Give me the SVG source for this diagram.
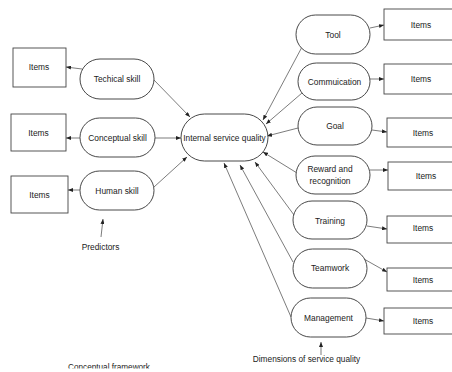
<svg xmlns="http://www.w3.org/2000/svg" width="452" height="372" viewBox="0 0 452 372">
<style>
.n{fill:#fff;stroke:#333;stroke-width:0.9}
.b{fill:#fff;stroke:#444;stroke-width:0.9}
.t{font-family:"Liberation Sans",Arial,sans-serif;font-size:8.4px;fill:#222;text-anchor:middle}
.c line{stroke:#444;stroke-width:0.7;marker-end:url(#ah)}
</style>
<defs>
<marker id="ah" viewBox="0 0 10 8" refX="10" refY="4" markerWidth="5" markerHeight="4" markerUnits="userSpaceOnUse" orient="auto">
<path d="M0,0L10,4L0,8z" fill="#222"/>
</marker>
<clipPath id="clipb"><rect x="0" y="0" width="452" height="368.6"/></clipPath>
</defs>
<g id="connectors" class="c">
<line x1="82" y1="69" x2="66" y2="67"/>
<line x1="80" y1="138" x2="66" y2="138"/>
<line x1="80" y1="190" x2="68" y2="190"/>
<line x1="154" y1="80" x2="190" y2="117"/>
<line x1="155" y1="138" x2="181" y2="138"/>
<line x1="154" y1="187" x2="187" y2="157"/>
<line x1="302" y1="47" x2="263" y2="120"/>
<line x1="302" y1="93" x2="266" y2="124"/>
<line x1="298" y1="128" x2="267" y2="136"/>
<line x1="297" y1="173" x2="263" y2="152"/>
<line x1="294" y1="215" x2="255" y2="162"/>
<line x1="293" y1="262" x2="240" y2="165"/>
<line x1="291" y1="317" x2="224" y2="163"/>
<line x1="370" y1="28" x2="384" y2="25"/>
<line x1="370" y1="79" x2="384" y2="79"/>
<line x1="372" y1="130" x2="387" y2="132"/>
<line x1="370" y1="170" x2="388" y2="170"/>
<line x1="367" y1="226" x2="387" y2="229"/>
<line x1="364" y1="259" x2="387" y2="272"/>
<line x1="366" y1="318" x2="384" y2="321"/>
<line x1="101" y1="237" x2="103" y2="219"/>
<line x1="321" y1="355" x2="321" y2="342"/>
</g>
<g id="internal"><rect class="n" x="181" y="114" width="87" height="47" rx="23.5"/><text class="t" x="224.5" y="141" style="font-size:8.3px">Internal service quality</text></g>
<g id="techical"><rect class="n" x="80" y="59" width="74" height="40" rx="20"/><text class="t" x="117" y="82">Techical skill</text></g>
<g id="conceptual"><rect class="n" x="80" y="118" width="75" height="39" rx="19.5"/><text class="t" x="117.5" y="141">Conceptual skill</text></g>
<g id="human"><rect class="n" x="80" y="171" width="74" height="39" rx="19.5"/><text class="t" x="117" y="194">Human skill</text></g>
<g id="items-l1"><rect class="b" x="13" y="48" width="53" height="39"/><text class="t" x="39" y="70">Items</text></g>
<g id="items-l2"><rect class="b" x="11" y="114" width="55" height="37"/><text class="t" x="38.5" y="136">Items</text></g>
<g id="items-l3"><rect class="b" x="11" y="176" width="57" height="37"/><text class="t" x="39.5" y="198">Items</text></g>
<g id="tool"><rect class="n" x="296" y="15" width="74" height="39" rx="19.5"/><text class="t" x="333" y="38">Tool</text></g>
<g id="commuication"><rect class="n" x="298" y="63" width="72" height="37" rx="18.5"/><text class="t" x="334.5" y="85">Commuication</text></g>
<g id="goal"><rect class="n" x="298" y="107" width="74" height="38" rx="19"/><text class="t" x="335" y="129">Goal</text></g>
<g id="reward"><rect class="n" x="296" y="156" width="74" height="38" rx="19"/><text class="t" x="330" y="172">Reward and</text><text class="t" x="330" y="184">recognition</text></g>
<g id="training"><rect class="n" x="293" y="201" width="74" height="38" rx="19"/><text class="t" x="330" y="224">Training</text></g>
<g id="teamwork"><rect class="n" x="293" y="249" width="74" height="39" rx="19.5"/><text class="t" x="330" y="271">Teamwork</text></g>
<g id="management"><rect class="n" x="291" y="298" width="75" height="39" rx="19.5"/><text class="t" x="328.5" y="321">Management</text></g>
<g id="items-r1"><rect class="b" x="384" y="9" width="74" height="31"/><text class="t" x="421" y="28">Items</text></g>
<g id="items-r2"><rect class="b" x="384" y="64" width="74" height="30"/><text class="t" x="421" y="82">Items</text></g>
<g id="items-r3"><rect class="b" x="387" y="118" width="72" height="29"/><text class="t" x="423" y="136">Items</text></g>
<g id="items-r4"><rect class="b" x="388" y="162" width="76" height="28"/><text class="t" x="426" y="179">Items</text></g>
<g id="items-r5"><rect class="b" x="387" y="216" width="72" height="27"/><text class="t" x="423" y="231">Items</text></g>
<g id="items-r6"><rect class="b" x="387" y="268" width="72" height="23"/><text class="t" x="423" y="283">Items</text></g>
<g id="items-r7"><rect class="b" x="384" y="308" width="78" height="26"/><text class="t" x="423" y="324">Items</text></g>
<g id="labels">
<text class="t" x="100.5" y="250">Predictors</text>
<text class="t" x="306.5" y="362" style="font-size:8.3px">Dimensions of service quality</text>
<text class="t" x="109" y="369.6" clip-path="url(#clipb)" style="font-size:8.2px">Conceptual framework</text>
</g>
</svg>
